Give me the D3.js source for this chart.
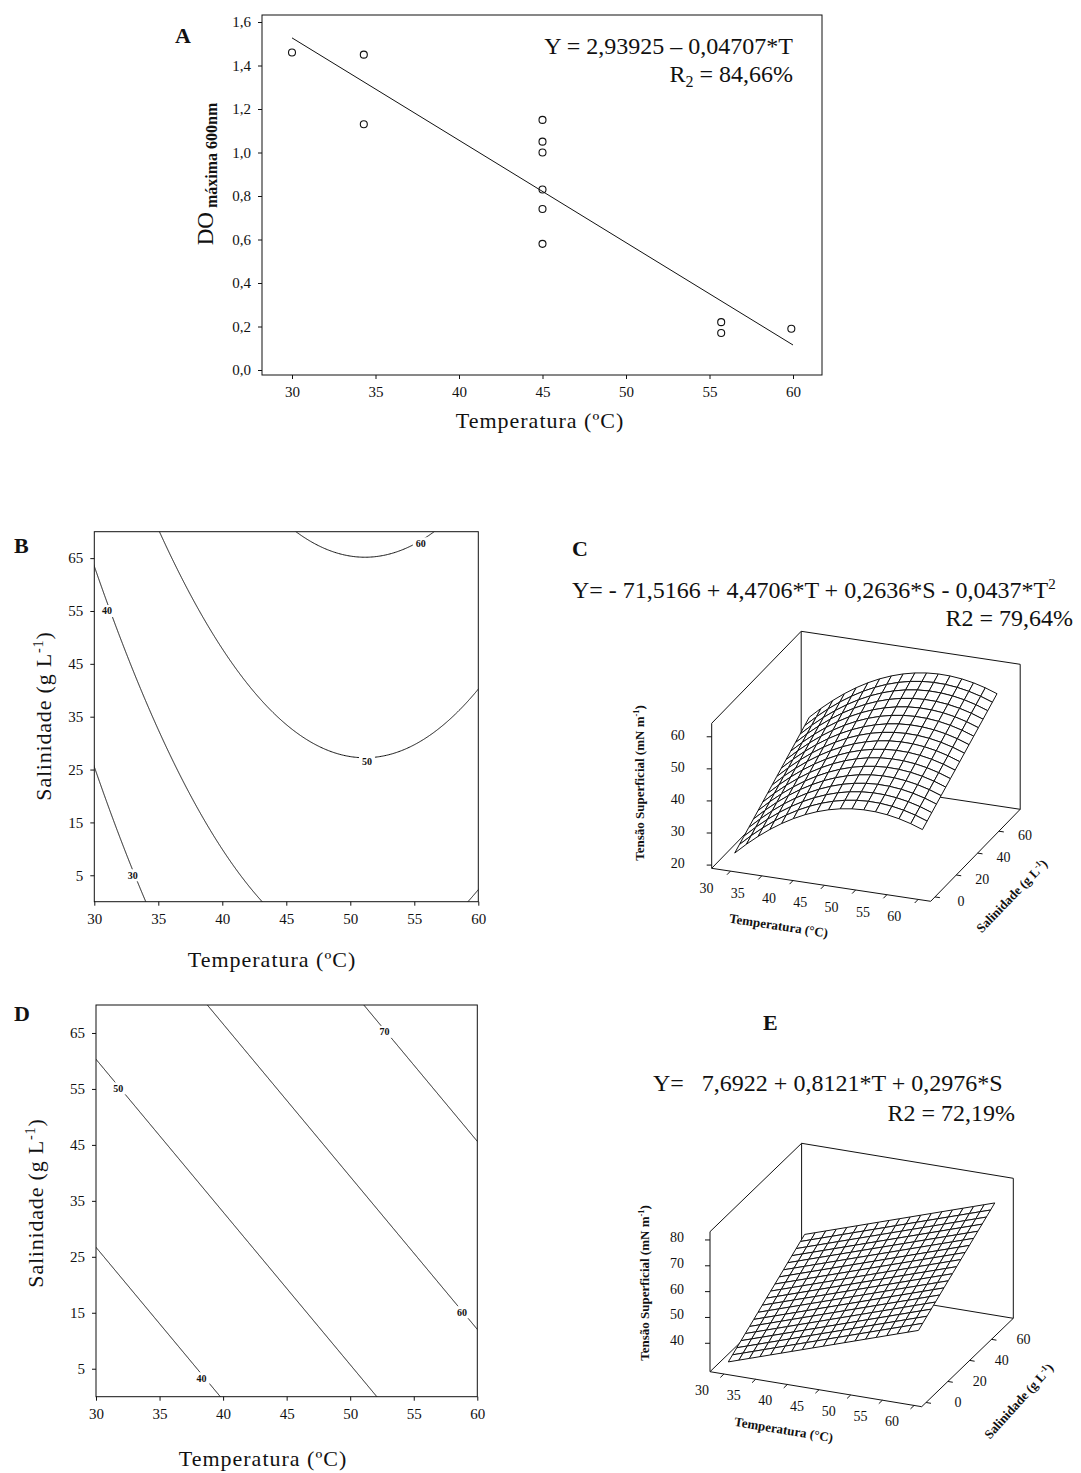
<!DOCTYPE html>
<html>
<head>
<meta charset="utf-8">
<script src="https://cdn.jsdelivr.net/npm/d3@7"></script>
<style>
  body { margin: 0; background: #fff; }
  svg text { font-family: "Liberation Serif", "Times New Roman", serif; fill: #111; }
</style>
</head>
<body>
<svg id="fig" width="1081" height="1473"></svg>
<script>
// ---- dados ----
// A: DO maxima a 600nm x temperatura
var tempA = [30, 34.3, 34.3, 45, 45, 45, 45, 45, 45, 55.7, 55.7, 59.9];
var doA = [1.46, 1.45, 1.13, 1.15, 1.05, 1.00, 0.83, 0.74, 0.58, 0.22, 0.17, 0.19];
var fitT = [30, 60];
var fitDO = [1.527, 0.115];
var ticksTA = [30, 35, 40, 45, 50, 55, 60];
var ticksDO = [0, 0.2, 0.4, 0.6, 0.8, 1.0, 1.2, 1.4, 1.6];

// modelos: Y = b0 + b1*T + b2*S + b3*T^2
var coefBC = [-71.5166, 4.4706, 0.2636, -0.0437];
var coefDE = [7.6922, 0.8121, 0.2976, 0];
var levelsB = [30, 40, 50, 60];
var levelsD = [40, 50, 60, 70];
var ticksT = [30, 35, 40, 45, 50, 55, 60];
var ticksS = [5, 15, 25, 35, 45, 55, 65];
var ticksS3d = [0, 20, 40, 60];
var ticksZC = [20, 30, 40, 50, 60];
var ticksZE = [40, 50, 60, 70, 80];

var svg = d3.select("#fig");
svg.append("rect").attr("width", 1081).attr("height", 1473).attr("fill", "#fff");

function comma(v) { return d3.format(".1f")(v).replace(".", ","); }
function model(c, T, S) { return c[0] + c[1] * T + c[2] * S + c[3] * T * T; }
function styleAxis(sel, size) {
  sel.attr("font-family", "Liberation Serif, serif").attr("font-size", size);
  sel.select(".domain").remove();
  sel.selectAll("line").attr("stroke", "#111");
  sel.selectAll("text").attr("fill", "#222");
}
function letter(x, y, s) {
  svg.append("text").attr("x", x).attr("y", y).attr("font-size", 22)
    .attr("font-weight", "bold").text(s);
}
// texto com expoente "-1"
function supText(sel, before, sup, after, fs, shift) {
  sel.append("tspan").text(before);
  sel.append("tspan").attr("dy", -shift).attr("font-size", fs * 0.65).text(sup);
  sel.append("tspan").attr("dy", shift).text(after);
}

// ================= A =================
(function () {
  var g = svg.append("g");
  var x = d3.scaleLinear().domain([30, 60]).range([292, 793]);
  var y = d3.scaleLinear().domain([0, 1.6]).range([370, 22]);

  g.append("rect").attr("x", 262).attr("y", 15).attr("width", 560).attr("height", 360)
    .attr("fill", "none").attr("stroke", "#111");

  g.append("g").attr("transform", "translate(0,375)")
    .call(d3.axisBottom(x).tickValues(ticksTA).tickSize(4).tickPadding(7))
    .call(styleAxis, 15);
  g.append("g").attr("transform", "translate(262,0)")
    .call(d3.axisLeft(y).tickValues(ticksDO).tickFormat(comma).tickSize(4).tickPadding(7))
    .call(styleAxis, 15);

  g.append("path")
    .attr("d", d3.line()(fitT.map(function (t, i) { return [x(t), y(fitDO[i])]; })))
    .attr("stroke", "#111").attr("fill", "none");

  g.selectAll("circle.pt").data(tempA).enter().append("circle")
    .attr("cx", function (d) { return x(d); })
    .attr("cy", function (d, i) { return y(doA[i]); })
    .attr("r", 3.5).attr("fill", "none").attr("stroke", "#111").attr("stroke-width", 1.1);

  g.append("text").attr("x", 793).attr("y", 54).attr("text-anchor", "end").attr("font-size", 24)
    .text("Y = 2,93925 \u2013 0,04707*T");
  var r = g.append("text").attr("x", 793).attr("y", 82).attr("text-anchor", "end").attr("font-size", 24);
  r.append("tspan").text("R");
  r.append("tspan").attr("dy", 5).attr("font-size", 16).text("2");
  r.append("tspan").attr("dy", -5).text(" = 84,66%");

  var yl = g.append("text").attr("transform", "translate(213,174) rotate(-90)").attr("text-anchor", "middle");
  yl.append("tspan").attr("font-size", 23).text("DO");
  yl.append("tspan").attr("font-size", 16).attr("font-weight", "bold").attr("dy", 4).text(" m\u00e1xima 600nm");

  g.append("text").attr("x", 540).attr("y", 428).attr("text-anchor", "middle")
    .attr("font-size", 22).attr("letter-spacing", 1).text("Temperatura (\u00baC)");
  letter(175, 43, "A");
})();

// ================= B e D: curvas de nível =================
function contourPanel(c) {
  var g = svg.append("g");
  var x = d3.scaleLinear().domain([30, 60]).range([c.box[0], c.box[2]]);
  var y = d3.scaleLinear().domain([0, 70]).range([c.box[3], c.box[1]]);
  var id = "clip" + c.name;
  svg.append("clipPath").attr("id", id).append("rect")
    .attr("x", c.box[0]).attr("y", c.box[1])
    .attr("width", c.box[2] - c.box[0]).attr("height", c.box[3] - c.box[1]);

  // grade do modelo, estendida além do quadro
  var step = 0.1, T0 = 28, S0 = -2, nx = 341, ny = 741;
  var values = new Array(nx * ny);
  for (var j = 0; j < ny; j++)
    for (var i = 0; i < nx; i++)
      values[j * nx + i] = model(c.coef, T0 + i * step, S0 + j * step);
  var cont = d3.contours().size([nx, ny]).thresholds(c.levels)(values);
  var tr = d3.geoTransform({
    point: function (px, py) {
      this.stream.point(x(T0 + (px - 0.5) * step), y(S0 + (py - 0.5) * step));
    }
  });
  var path = d3.geoPath(tr);
  g.append("g").attr("clip-path", "url(#" + id + ")")
    .selectAll("path").data(cont).enter().append("path")
    .attr("d", path).attr("fill", "none").attr("stroke", "#111").attr("stroke-width", 1);

  // rótulos das curvas
  var lab = g.selectAll("g.lab").data(c.levels).enter().append("g")
    .attr("transform", function (d, i) { return "translate(" + x(c.spots[i][0]) + "," + y(c.spots[i][1]) + ")"; });
  lab.append("rect").attr("x", -8).attr("y", -6).attr("width", 16).attr("height", 12).attr("fill", "#fff");
  lab.append("text").attr("text-anchor", "middle").attr("dy", 3.5)
    .attr("font-family", "Liberation Sans, Arial, sans-serif").attr("font-size", 10)
    .attr("font-weight", "bold").text(function (d) { return d; });

  g.append("rect").attr("x", c.box[0]).attr("y", c.box[1])
    .attr("width", c.box[2] - c.box[0]).attr("height", c.box[3] - c.box[1])
    .attr("fill", "none").attr("stroke", "#111");
  g.append("g").attr("transform", "translate(0," + c.box[3] + ")")
    .call(d3.axisBottom(x).tickValues(ticksT).tickSize(4).tickPadding(8))
    .call(styleAxis, 15);
  g.append("g").attr("transform", "translate(" + c.box[0] + ",0)")
    .call(d3.axisLeft(y).tickValues(ticksS).tickSize(4).tickPadding(7))
    .call(styleAxis, 15);

  var yt = g.append("text").attr("transform", "translate(" + c.yTitle[0] + "," + c.yTitle[1] + ") rotate(-90)")
    .attr("text-anchor", "middle").attr("font-size", 22).attr("letter-spacing", 0.8);
  supText(yt, "Salinidade (g L", "-1", ")", 22, 8);
  g.append("text").attr("x", c.xTitle[0]).attr("y", c.xTitle[1]).attr("text-anchor", "middle")
    .attr("font-size", 22).attr("letter-spacing", 1).text("Temperatura (\u00baC)");
  letter(c.letter[0], c.letter[1], c.name);
}

contourPanel({
  name: "B", box: [94.3, 531.7, 478.3, 901.7], coef: coefBC, levels: levelsB,
  spots: [[33, 5], [31, 55], [51.3, 26.5], [55.5, 67.8]],
  yTitle: [51, 716], xTitle: [272, 967], letter: [14, 553]
});
contourPanel({
  name: "D", box: [96, 1005, 477.3, 1396.7], coef: coefDE, levels: levelsD,
  spots: [[38.3, 3.3], [31.75, 55.1], [58.8, 15.1], [52.7, 65.2]],
  yTitle: [43, 1203], xTitle: [263, 1466], letter: [14, 1021]
});

// ================= C e E: superfícies =================
function surfacePanel(c) {
  var g = svg.append("g");
  var tS = d3.scaleLinear().domain(c.tDom).range([0, 1]);
  var sS = d3.scaleLinear().domain(c.sDom).range([0, 1]);
  var zS = d3.scaleLinear().domain(c.zDom).range([0, 1]);
  function P(T, S, Z) {
    var a = tS(T), b = sS(S), k = zS(Z);
    return [c.o[0] + a * c.tv[0] + b * c.sv[0] + k * c.zv[0],
            c.o[1] + a * c.tv[1] + b * c.sv[1] + k * c.zv[1]];
  }
  var t0 = c.tDom[0], t1 = c.tDom[1], s0 = c.sDom[0], s1 = c.sDom[1], z0 = c.zDom[0], z1 = c.zDom[1];
  var line = d3.line();
  function seg(a, b) {
    g.append("path").attr("d", line([a, b])).attr("stroke", "#111").attr("fill", "none");
  }
  // arestas do fundo
  seg(P(t0, s1, z0), P(t0, s1, z1));
  seg(P(t0, s1, z1), P(t1, s1, z1));
  seg(P(t1, s1, z0), P(t1, s1, z1));
  seg(P(t0, s1, z0), P(t1, s1, z0));
  seg(P(t0, s0, z0), P(t0, s1, z0));
  seg(P(t0, s0, z1), P(t0, s1, z1));

  // malha da superfície (pintor: do fundo para a frente)
  var gT = d3.range(c.mesh + 1).map(function (i) { return 30 + i * 30 / c.mesh; });
  var gS = d3.range(c.mesh + 1).map(function (i) { return i * 70 / c.mesh; });
  var cells = [];
  for (var i = 0; i < gT.length - 1; i++) {
    for (var j = 0; j < gS.length - 1; j++) {
      var q = [[gT[i], gS[j]], [gT[i + 1], gS[j]], [gT[i + 1], gS[j + 1]], [gT[i], gS[j + 1]]]
        .map(function (p) { return P(p[0], p[1], model(c.coef, p[0], p[1])); });
      cells.push({ q: q, depth: P((gT[i] + gT[i + 1]) / 2, (gS[j] + gS[j + 1]) / 2, z0)[1] });
    }
  }
  cells.sort(function (a, b) { return a.depth - b.depth; });
  g.append("g").selectAll("path").data(cells).enter().append("path")
    .attr("d", function (d) { return line(d.q) + "Z"; })
    .attr("fill", "#fff").attr("stroke", "#111").attr("stroke-width", 1);

  // eixos da frente
  seg(P(t0, s0, z0), P(t0, s0, z1));
  seg(P(t0, s0, z0), P(t1, s0, z0));
  seg(P(t1, s0, z0), P(t1, s1, z0));

  var sLen = Math.hypot(c.sv[0], c.sv[1]), tLen = Math.hypot(c.tv[0], c.tv[1]);
  c.zTicks.forEach(function (z) {
    var p = P(t0, s0, z);
    seg(p, [p[0] - 5, p[1]]);
    g.append("text").attr("x", p[0] + c.zLab[0]).attr("y", p[1] + c.zLab[1] + 5)
      .attr("text-anchor", "middle").attr("font-size", 14).attr("fill", "#333").text(z);
  });
  ticksT.forEach(function (t) {
    var p = P(t, s0, z0);
    seg(p, [p[0] - 5 * c.sv[0] / sLen, p[1] - 5 * c.sv[1] / sLen]);
    g.append("text").attr("x", p[0] + c.tLab[0]).attr("y", p[1] + c.tLab[1] + 5)
      .attr("text-anchor", "middle").attr("font-size", 14).attr("fill", "#333").text(t);
  });
  ticksS3d.forEach(function (s) {
    var p = P(t1, s, z0);
    seg(p, [p[0] + 5 * c.tv[0] / tLen, p[1] + 5 * c.tv[1] / tLen]);
    g.append("text").attr("x", p[0] + c.sLab[0]).attr("y", p[1] + c.sLab[1] + 5)
      .attr("text-anchor", "middle").attr("font-size", 14).attr("fill", "#333").text(s);
  });

  var zt = g.append("text").attr("transform", "translate(" + c.zTitle[0] + "," + c.zTitle[1] + ") rotate(-90)")
    .attr("text-anchor", "middle").attr("font-size", 13).attr("font-weight", "bold");
  supText(zt, "Tens\u00e3o Superficial (mN m", "-1", ")", 13, 5);
  var ang = Math.atan2(c.tv[1], c.tv[0]) * 180 / Math.PI;
  g.append("text").attr("transform", "translate(" + c.tTitle[0] + "," + c.tTitle[1] + ") rotate(" + ang + ")")
    .attr("text-anchor", "middle").attr("font-size", 13).attr("font-weight", "bold").text("Temperatura (\u00b0C)");
  var st = g.append("text").attr("transform", "translate(" + c.sTitle[0] + "," + c.sTitle[1] + ") rotate(" + c.sAng + ")")
    .attr("text-anchor", "middle").attr("font-size", 13).attr("font-weight", "bold");
  supText(st, "Salinidade (g L", "-1", ")", 13, 5);

  // equação
  var e1 = g.append("text").attr("x", c.eq[0]).attr("y", c.eq[1]).attr("font-size", 24);
  e1.append("tspan").attr("xml:space", "preserve").text(c.eqText);
  if (c.eqSup) e1.append("tspan").attr("dy", -9).attr("font-size", 15).text(c.eqSup);
  g.append("text").attr("x", c.r2[0]).attr("y", c.r2[1]).attr("text-anchor", "end")
    .attr("font-size", 24).text(c.r2Text);
  letter(c.letter[0], c.letter[1], c.name);
}

surfacePanel({
  name: "C", coef: coefBC, zTicks: ticksZC, mesh: 16,
  o: [711.7, 868.3], tv: [219, 33], sv: [89.5, -92], zv: [0, -145],
  tDom: [27, 62], sDom: [-4, 80], zDom: [19, 64.2],
  zLab: [-34, -2], tLab: [-24, 17], sLab: [26, 4],
  zTitle: [644, 783], tTitle: [778, 930], sTitle: [1015, 899], sAng: -46,
  eq: [572, 598], eqText: "Y= - 71,5166 + 4,4706*T + 0,2636*S - 0,0437*T", eqSup: "2",
  r2: [1073, 626], r2Text: "R2 = 79,64%", letter: [572, 556]
});
surfacePanel({
  name: "E", coef: coefDE, zTicks: ticksZE, mesh: 18,
  o: [710, 1371.7], tv: [211.7, 35], sv: [91.6, -88.4], zv: [0, -140],
  tDom: [27.8, 61.2], sDom: [-4, 80], zDom: [29, 83.2],
  zLab: [-33, -3], tLab: [-22, 16], sLab: [32, 0],
  zTitle: [649, 1283], tTitle: [783, 1434], sTitle: [1022, 1404], sAng: -48,
  eq: [653, 1091], eqText: "Y=   7,6922 + 0,8121*T + 0,2976*S", eqSup: null,
  r2: [1015, 1121], r2Text: "R2 = 72,19%", letter: [763, 1030]
});
</script>
</body>
</html>
